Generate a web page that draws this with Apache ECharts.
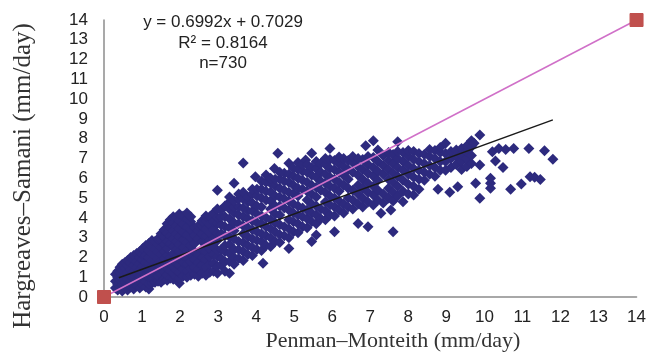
<!DOCTYPE html>
<html>
<head>
<meta charset="utf-8">
<script src="https://cdn.jsdelivr.net/npm/echarts@6/dist/echarts.min.js"></script>
<style>html,body{margin:0;padding:0;background:#fff}#c{width:649px;height:356px}</style>
</head>
<body>
<div id="c"></div>
<script>
// ---- data ----
const axisTicks = [0,1,2,3,4,5,6,7,8,9,10,11,12,13,14];
const xTitle = 'Penman–Monteith (mm/day)';
const yTitle = 'Hargreaves–Samani (mm/day)';
const annotation = ['y = 0.6992x + 0.7029', 'R² = 0.8164', 'n=730'];
const regression = [0.6992, 0.7029];      // slope, intercept
const regressionRange = [0.39, 11.8];     // x extent of fitted line
const oneToOne = [[0,0],[14,14]];
// scatter columns: [x, [y values]]
const pointColumns = [
 [0.30,[0.45,0.8,1.15]],
 [0.36,[0.35,0.65,1.0,1.3]],
 [0.42,[0.5,0.85,1.2,1.5]],
 [0.48,[0.3,0.6,0.95,1.35,1.65]],
 [0.55,[0.45,0.75,1.1,1.45,1.75]],
 [0.62,[0.35,0.6,0.9,1.25,1.6,1.85]],
 [0.70,[0.5,0.8,1.1,1.4,1.75,2.0]],
 [0.78,[0.4,0.7,1.0,1.3,1.6,1.9,2.1]],
 [0.86,[0.55,0.85,1.2,1.5,1.8,2.2]],
 [0.94,[0.45,0.75,1.05,1.35,1.7,2.0,2.3]],
 [1.02,[0.6,0.9,1.25,1.55,1.9,2.15,2.45]],
 [1.10,[0.5,0.8,1.1,1.45,1.75,2.1,2.6]],
 [1.18,[0.4,0.65,1.0,1.3,1.65,2.0,2.35,2.7]],
 [1.26,[0.7,0.95,1.25,1.55,1.85,2.2,2.55,2.85]],
 [1.34,[0.75,1.1,1.4,1.75,2.05,2.4,2.8]],
 [1.42,[0.8,1.05,1.35,1.65,1.95,2.3,2.65,2.95]],
 [1.50,[0.75,1.15,1.5,1.85,2.15,2.5,2.9,3.2]],
 [1.58,[0.9,1.25,1.6,1.95,2.3,2.65,3.05,3.4]],
 [1.66,[0.85,1.1,1.45,1.75,2.1,2.45,2.8,3.25,3.7]],
 [1.74,[0.95,1.3,1.65,2.0,2.7,3.1,3.5,3.9]],
 [1.82,[0.9,1.2,1.55,1.9,2.2,2.55,2.95,3.35,3.75,4.05]],
 [1.90,[1.0,1.35,1.7,2.05,2.4,2.8,3.2,3.6,4.0]],
 [1.98,[0.7,0.95,1.25,1.6,1.95,2.3,2.65,3.05,3.45,3.85,4.2]],
 [2.08,[1.05,1.4,1.75,2.1,2.5,2.9,3.3,3.7,4.1]],
 [2.18,[1.0,1.3,1.65,2.0,2.35,2.75,3.15,3.55,3.95,4.25]],
 [2.28,[1.1,1.45,1.8,2.2,2.6,3.0,3.4,3.8,4.05]],
 [2.38,[1.15,1.5,1.9,2.3,2.7,3.1,3.5]],
 [2.48,[1.05,1.4,1.75,2.15,2.95,3.35,3.6]],
 [2.58,[1.2,1.6,2.0,2.4,2.8,3.2,3.6,3.85]],
 [2.68,[1.1,1.5,1.9,2.3,2.7,3.1,3.45,3.85,4.1]],
 [2.78,[1.25,1.65,2.05,2.45,2.85,3.25,3.65,4.05]],
 [2.88,[1.3,1.7,2.15,2.55,2.95,3.4,3.8,4.25]],
 [2.98,[1.2,1.55,2.05,2.35,2.85,3.2,3.7,4.0,4.45,5.4]],
 [3.08,[1.6,1.95,2.4,3.2,3.65,4.05,4.4]],
 [3.18,[1.3,1.8,2.3,2.6,3.1,3.55,4.05,4.6]],
 [3.30,[1.2,1.8,2.2,2.65,3.05,3.5,3.95,4.45,4.8,5.05]],
 [3.42,[1.65,2.0,2.4,2.95,3.35,3.75,4.25,4.55,4.85,5.75]],
 [3.54,[1.95,2.4,2.8,3.7,4.15,4.55,4.95,5.2]],
 [3.66,[1.85,2.3,2.75,3.2,3.6,4.05,4.5,4.95,5.3,6.77]],
 [3.78,[2.15,2.6,3.05,3.5,3.95,4.35,4.8,5.05]],
 [3.90,[2.1,2.5,2.95,3.4,3.85,4.35,4.75,5.2,5.45]],
 [3.98,[6.08]],
 [4.02,[2.4,2.85,3.3,3.75,4.2,4.6,5.1,5.45]],
 [4.14,[2.35,2.8,3.2,3.7,4.1,4.55,5.0,5.45,5.85]],
 [4.18,[1.7]],
 [4.26,[2.6,3.1,3.55,4.0,4.9,5.35,5.8,6.16]],
 [4.38,[2.55,3.0,3.45,3.9,4.45,4.85,5.3,5.75,6.0]],
 [4.48,[6.5]],
 [4.50,[2.8,3.3,3.75,4.2,4.6,5.1,5.6,5.95]],
 [4.57,[7.26]],
 [4.62,[2.75,3.15,3.65,4.15,4.6,5.05,5.5,5.95,6.3]],
 [4.74,[3.1,3.55,4.5,4.95,5.4,5.85,6.25]],
 [4.86,[2.45,3.0,3.45,3.9,4.4,4.85,5.3,5.8,6.2,6.76]],
 [4.98,[3.3,3.8,4.25,4.7,5.2,5.65,6.1,6.5]],
 [5.10,[3.25,3.7,4.15,4.6,5.1,5.5,6.0,6.45,6.8]],
 [5.22,[3.55,4.05,4.5,5.45,5.9,6.35,6.7]],
 [5.30,[6.92]],
 [5.34,[3.5,3.95,4.4,4.9,5.35,5.8,6.3,6.7]],
 [5.46,[2.8,3.8,4.25,4.7,5.2,5.65,6.15,6.55,7.26]],
 [5.58,[3.13,3.7,4.15,4.6,5.05,5.55,6.05,6.5,6.85]],
 [5.70,[3.95,4.45,5.4,5.85,6.3,6.75]],
 [5.82,[3.9,4.35,4.8,5.3,5.75,6.2,6.7,7.0]],
 [5.94,[4.15,4.65,5.1,5.6,6.05,6.5,6.95,7.5]],
 [6.06,[3.3,4.1,4.55,5.0,5.5,5.95,6.45,6.9]],
 [6.18,[4.4,4.85,5.35,5.8,6.3,6.75,7.08]],
 [6.30,[4.25,4.7,5.65,6.15,6.6,7.0]],
 [6.42,[4.55,5.0,5.5,5.95,6.45,6.9]],
 [6.54,[4.45,4.9,5.4,6.3,6.8,7.1]],
 [6.68,[3.72,4.7,5.2,5.65,6.15,6.6,7.0]],
 [6.80,[4.55,5.0,5.5,5.95,6.45,6.95]],
 [6.88,[7.65]],
 [6.94,[3.55,4.8,5.3,5.75,6.25,6.7,7.1]],
 [7.08,[4.65,5.15,5.6,6.1,6.55,7.05,7.9]],
 [7.20,[4.9,5.4,5.9,6.35,6.85,7.43]],
 [7.28,[4.23]],
 [7.34,[4.75,5.2,6.2,6.65,7.15]],
 [7.48,[5.0,5.5,5.95,6.45,6.9,7.3]],
 [7.54,[4.4]],
 [7.60,[3.3,4.85,5.3,5.8,6.25,6.75,7.2]],
 [7.72,[5.1,5.6,6.1,6.55,7.0,7.35,7.85]],
 [7.86,[4.82,5.35,5.9,6.4,6.85,7.3]],
 [8.00,[5.2,5.7,6.2,6.65,7.1,7.4]],
 [8.14,[5.15,5.6,6.05,6.5,6.95,7.35]],
 [8.28,[5.45,5.95,6.4,6.85,7.25]],
 [8.42,[5.9,6.3,6.75,7.2]],
 [8.56,[6.2,6.65,7.1,7.45]],
 [8.70,[6.1,6.55,7.0,7.4]],
 [8.78,[5.44]],
 [8.84,[6.4,6.85,7.3,7.55]],
 [8.98,[6.4,6.85,7.25,7.77]],
 [9.09,[5.3]],
 [9.12,[6.55,7.0,7.35]],
 [9.26,[6.7,7.1,7.43]],
 [9.30,[5.57]],
 [9.33,[6.84]],
 [9.40,[6.45,6.85,7.2,7.5]],
 [9.54,[6.6,7.0,7.35,7.65]],
 [9.66,[6.75,7.15,7.6,7.9]],
 [9.73,[7.77]],
 [9.77,[5.75]],
 [9.88,[8.19,6.67,4.99]],
 [10.16,[5.5,5.75,6.0]],
 [10.21,[7.34]],
 [10.29,[6.87]],
 [10.38,[7.51]],
 [10.49,[6.54]],
 [10.56,[7.46]],
 [10.69,[5.44]],
 [10.77,[7.51]],
 [10.97,[5.71]],
 [11.17,[7.51]],
 [11.20,[6.08]],
 [11.32,[6.05]],
 [11.47,[5.94]],
 [11.58,[7.39]],
 [11.80,[6.96]]
];
// ---- build ----
const scatterData = [];
pointColumns.forEach(([x, ys]) => ys.forEach(y => scatterData.push([x, y])));
const regLine = regressionRange.map(x => [x, regression[0]*x + regression[1]]);

const chart = echarts.init(document.getElementById('c'), null, {renderer:'canvas'});
chart.setOption({
  animation: false,
  backgroundColor: '#fff',
  grid: {left: 104, right: 11, top: 20, bottom: 59},
  xAxis: {
    type: 'value', min: 0, max: 14, interval: 1,
    axisLine: {show: true, lineStyle: {color: '#8c8c8c', width: 1.5}},
    axisTick: {show: false}, splitLine: {show: false},
    axisLabel: {color: '#222', fontSize: 17, fontFamily: 'Liberation Sans, Arial, sans-serif', margin: 12,
      formatter: v => axisTicks.includes(v) ? String(v) : ''}
  },
  yAxis: {
    type: 'value', min: 0, max: 14, interval: 1,
    axisLine: {show: true, lineStyle: {color: '#8c8c8c', width: 1.5}},
    axisTick: {show: false}, splitLine: {show: false},
    axisLabel: {color: '#222', fontSize: 17, fontFamily: 'Liberation Sans, Arial, sans-serif', margin: 16,
      formatter: v => axisTicks.includes(v) ? String(v) : ''}
  },
  graphic: [
    {type: 'text', x: 223, y: 22, style: {text: annotation[0], fill: '#222', font: '17px "Liberation Sans", Arial, sans-serif', align: 'center', verticalAlign: 'middle'}},
    {type: 'text', x: 223, y: 43, style: {text: annotation[1], fill: '#222', font: '17px "Liberation Sans", Arial, sans-serif', align: 'center', verticalAlign: 'middle'}},
    {type: 'text', x: 223, y: 63, style: {text: annotation[2], fill: '#222', font: '17px "Liberation Sans", Arial, sans-serif', align: 'center', verticalAlign: 'middle'}},
    {type: 'text', x: 393, y: 341, style: {text: xTitle, fill: '#333', font: '22px "Liberation Serif", "Times New Roman", serif', align: 'center', verticalAlign: 'middle'}},
    {type: 'text', x: 23, y: 176, rotation: Math.PI/2, style: {text: yTitle, fill: '#333', font: '25px "Liberation Serif", "Times New Roman", serif', align: 'center', verticalAlign: 'middle'}}
  ],
  series: [
    {type: 'scatter', data: scatterData, symbol: 'diamond', symbolSize: 11,
     itemStyle: {color: '#2D2A7E', opacity: 1}, z: 2},
    {type: 'line', data: oneToOne, symbol: 'rect', symbolSize: 13, showSymbol: true, clip: false,
     lineStyle: {color: '#D070C8', width: 1.5}, itemStyle: {color: '#C0504D', borderColor: '#C0504D'}, z: 4},
    {type: 'line', data: regLine, symbol: 'none', clip: false,
     lineStyle: {color: '#1a1a1a', width: 1.5}, z: 3}
  ]
});
</script>
</body>
</html>
